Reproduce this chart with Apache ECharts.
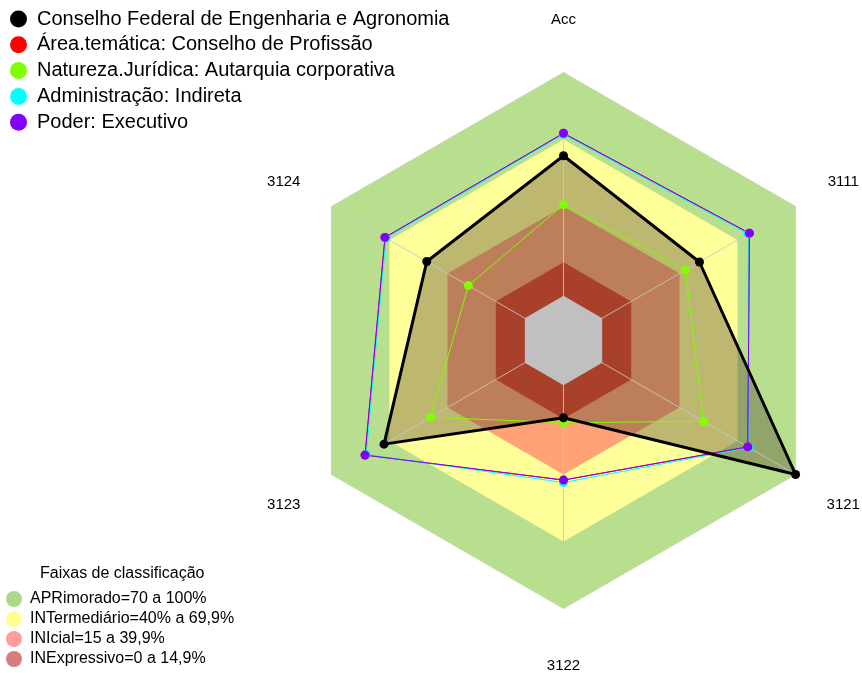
<!DOCTYPE html>
<html>
<head>
<meta charset="utf-8">
<script src="https://cdn.jsdelivr.net/npm/echarts@6/dist/echarts.min.js"></script>
<style>
  html, body { margin: 0; padding: 0; background: #fff; }
  #chart { width: 862px; height: 673px; }
</style>
</head>
<body>
<div id="chart"></div>
<script>
// indicators listed counter-clockwise from the top (ECharts radar order)
const indicators = ["Acc", "3124", "3123", "3122", "3121", "3111"];

const conselho = [62.7, 50.7, 72.8, 14.6, 100, 50.3];
const areaTematica = [72.8, 72.3, 82.6, 42.5, 75.3, 76.1];
const natureza = [40.8, 29.2, 48.7, 16.8, 52.5, 43.0];
const administracao = [72.3, 71.8, 82.0, 43.6, 75.8, 75.5];
const poder = [72.8, 72.3, 82.6, 42.5, 75.3, 76.1];

// classification bands (upper bound of each band on every axis)
const bandAprimorado = [100, 100, 100, 100, 100, 100];
const bandIntermediario = [70, 70, 70, 70, 70, 70];
const bandInicial = [40, 40, 40, 40, 40, 40];
const bandInexpressivo = [15, 15, 15, 15, 15, 15];
const bandZero = [0, 0, 0, 0, 0, 0];

const seriesNames = [
  "Conselho Federal de Engenharia e Agronomia",
  "Área.temática: Conselho de Profissão",
  "Natureza.Jurídica: Autarquia corporativa",
  "Administração: Indireta",
  "Poder: Executivo"
];
const bandNames = [
  "APRimorado=70 a 100%",
  "INTermediário=40% a 69,9%",
  "INIcial=15 a 39,9%",
  "INExpressivo=0 a 14,9%"
];

const FONT = "Liberation Sans, Arial, sans-serif";
const LINE_COLORS = ["#000000", "#ff0000", "#80ff00", "#00ffff", "#8000ff"];
const BAND_FILLS = ["#b8df8e", "#ffff99", "#ffa276", "#dc3a26"];
const BAND_LEGEND = ["#acd98a", "#ffff8f", "#ff9d9d", "#d47d7d"];

const chart = echarts.init(document.getElementById("chart"));

const bandSeries = (name, values, color, z, extra) => Object.assign({
  type: "radar",
  name,
  z,
  silent: true,
  symbol: "none",
  lineStyle: { width: 0, opacity: 0 },
  areaStyle: { color, opacity: 1 },
  data: [{ value: values }]
}, extra || {});

const lineSeries = (name, values, color, width) => ({
  type: "radar",
  name,
  z: 4,
  symbol: "circle",
  symbolSize: 9,
  itemStyle: { color },
  lineStyle: { color, width },
  data: [{ value: values }]
});

chart.setOption({
  animation: false,
  title: {
    text: "Faixas de classificação",
    left: 40,
    top: 566,
    padding: 0,
    textStyle: { fontFamily: FONT, fontSize: 16, fontWeight: "normal", color: "#000" }
  },
  legend: [
    {
      data: seriesNames.map((name, i) => ({ name, itemStyle: { color: LINE_COLORS[i] } })),
      orient: "vertical",
      left: 10,
      top: 9,
      padding: 0,
      icon: "circle",
      itemWidth: 27,
      itemHeight: 17,
      itemGap: 5.8,
      selectedMode: false,
      textStyle: { fontFamily: FONT, fontSize: 20, color: "#000" }
    },
    {
      data: bandNames.map((name, i) => ({ name, itemStyle: { color: BAND_LEGEND[i] } })),
      orient: "vertical",
      left: 6,
      top: 591,
      padding: 0,
      icon: "circle",
      itemWidth: 22,
      itemHeight: 16,
      itemGap: 4,
      selectedMode: false,
      textStyle: { fontFamily: FONT, fontSize: 16, color: "#000" }
    }
  ],
  radar: {
    z: 2,
    center: [563.5, 340.5],
    radius: 268,
    startAngle: 90,
    shape: "polygon",
    nameGap: 55,
    indicator: indicators.map((name) => ({ name, min: -20, max: 100 })),
    axisName: {
      color: "#000",
      fontFamily: FONT,
      fontSize: 15,
      align: "center",
      verticalAlign: "top",
      lineHeight: 5
    },
    splitLine: { show: false },
    splitArea: { show: false },
    axisLine: { lineStyle: { color: "rgba(200,200,200,0.85)", width: 1 } },
    axisTick: { show: false },
    axisLabel: { show: false }
  },
  series: [
    bandSeries(bandNames[0], bandAprimorado, BAND_FILLS[0], 1, {
      lineStyle: { color: "#d0d0d0", width: 1 }
    }),
    bandSeries(bandNames[1], bandIntermediario, BAND_FILLS[1], 1),
    bandSeries(bandNames[2], bandInicial, BAND_FILLS[2], 1),
    bandSeries(bandNames[3], bandInexpressivo, BAND_FILLS[3], 1),
    // translucent fill of the main series, under the axis spokes
    bandSeries(seriesNames[0], conselho, "rgba(90,75,50,0.4)", 1),
    bandSeries("abaixo de zero", bandZero, "#c0c0c0", 3),
    lineSeries(seriesNames[1], areaTematica, LINE_COLORS[1], 1),
    lineSeries(seriesNames[3], administracao, LINE_COLORS[3], 1),
    lineSeries(seriesNames[4], poder, LINE_COLORS[4], 1),
    lineSeries(seriesNames[2], natureza, LINE_COLORS[2], 1),
    lineSeries(seriesNames[0], conselho, LINE_COLORS[0], 3)
  ]
});
</script>
</body>
</html>
